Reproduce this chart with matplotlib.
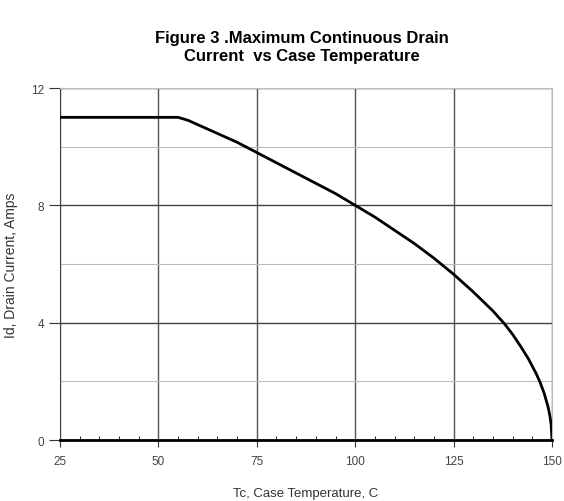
import matplotlib.pyplot as plt
from matplotlib.ticker import MultipleLocator

plt.rcParams['font.family'] = ['Liberation Sans', 'DejaVu Sans']

# values
temp_c = [25, 55, 57.5, 60, 65, 70, 75, 80, 85, 90, 95, 100, 105, 110, 115, 120, 125,
          130, 135, 138, 140, 142, 144, 146, 147, 148, 149, 149.5, 149.8, 150]
drain_a = [11.0, 11.0, 10.9, 10.75, 10.45, 10.15, 9.8, 9.45, 9.1, 8.75, 8.4, 8.0, 7.6, 7.15,
           6.7, 6.2, 5.65, 5.05, 4.4, 3.95, 3.6, 3.2, 2.77, 2.26, 1.96, 1.6, 1.13, 0.8, 0.5, 0.0]

fig = plt.figure(figsize=(5.64, 5.02), dpi=100)
ax = fig.add_axes([0.1064, 0.1215, 0.8723, 0.7012])

ax.plot(temp_c, drain_a, color='black', linewidth=2.0, zorder=3)

ax.set_xlim(25, 150)
ax.set_ylim(0, 12)
ax.xaxis.set_major_locator(MultipleLocator(25))
ax.xaxis.set_minor_locator(MultipleLocator(5))
ax.yaxis.set_major_locator(MultipleLocator(4))
ax.yaxis.set_minor_locator(MultipleLocator(2))

ax.grid(True, which='major', axis='x', color='#555555', linewidth=1.0)
ax.grid(True, which='major', axis='y', color='#444444', linewidth=1.0)
ax.grid(True, which='minor', axis='y', color='#bbbbbb', linewidth=0.8)
ax.set_axisbelow(True)

for s in ['top', 'right']:
    ax.spines[s].set_color('#bbbbbb')
    ax.spines[s].set_linewidth(0.8)
ax.spines['left'].set_color('#444444')
ax.spines['bottom'].set_color('black')
ax.spines['bottom'].set_linewidth(2.0)

ax.tick_params(axis='x', which='major', direction='out', length=5, color='#333333',
               labelsize=8.5, labelcolor='#444444', pad=6)
ax.tick_params(axis='x', which='minor', direction='in', length=3, color='black')
ax.tick_params(axis='y', which='major', direction='out', length=8, color='#333333',
               labelsize=8.5, labelcolor='#444444')
ax.tick_params(axis='y', which='minor', length=0)

ax.set_xlabel('Tc, Case Temperature, C', fontsize=9.5, color='#333333', labelpad=14)
ax.set_ylabel('Id, Drain Current, Amps', fontsize=10, color='#333333')
ax.yaxis.set_label_coords(-0.085, 0.5)

fig.text(0.535, 0.905, 'Figure 3 .Maximum Continuous Drain\nCurrent  vs Case Temperature',
         ha='center', va='center', fontsize=12, fontweight='bold', linespacing=1.2)

fig.savefig('out.png', dpi=100)
